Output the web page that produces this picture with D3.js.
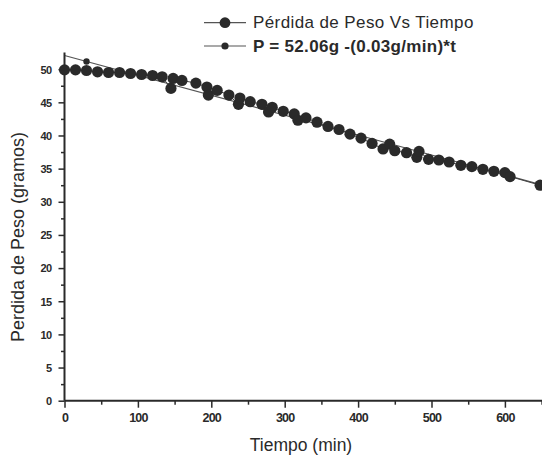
<!DOCTYPE html>
<html><head><meta charset="utf-8">
<script src="https://cdn.jsdelivr.net/npm/d3@7"></script>
<style>body{margin:0;background:#fff}svg{display:block}</style>
</head><body>
<svg id="c" width="542" height="456"></svg>
<script>
// Data
const timeMin = [0,15,30,45,60,75,90,105,120,133,145,148,160,179,194,196,208,224,237,239,253,269,278,283,298,313,318,329,344,359,374,389,404,419,434,443,450,466,480,483,496,510,524,540,555,570,585,600,607,648];
const weightG = [49.9,49.9,49.8,49.6,49.5,49.5,49.35,49.2,49.05,48.85,47.1,48.6,48.3,47.9,47.3,46.1,46.8,46.1,44.7,45.65,45.1,44.7,43.55,44.25,43.65,43.25,42.3,42.65,42.0,41.36,40.9,40.2,39.6,38.8,37.97,38.7,37.7,37.4,36.7,37.6,36.4,36.3,36.0,35.5,35.3,34.9,34.6,34.4,33.8,32.5];
const fitIntercept = 52.06, fitSlope = -0.03;
const fitLineT = [0, 650];
const fitMarkerT = [30];
const xTicks = [0,100,200,300,400,500,600];
const yTicks = [0,5,10,15,20,25,30,35,40,45,50];
const seriesNames = ["Pérdida de Peso Vs Tiempo", "P = 52.06g -(0.03g/min)*t"];

const svg = d3.select("#c");
const x = d3.scaleLinear().domain([0,650]).range([64.5,541.6]);
const y = d3.scaleLinear().domain([0,52.5]).range([400.7,52.6]);
const ink = "#2a2a2a";

// fit line
const fit = t => fitIntercept + fitSlope*t;
svg.append("path").datum(fitLineT)
  .attr("d", d3.line().x(t=>x(t)).y(t=>y(fit(t))))
  .attr("fill","none").attr("stroke","#555").attr("stroke-width",1.2);
svg.selectAll(".fm").data(fitMarkerT).join("circle")
  .attr("cx",t=>x(t)).attr("cy",t=>y(fit(t))).attr("r",3.2).attr("fill",ink);

// data
const pts = timeMin.map((t,i)=>[t,weightG[i]]);
svg.append("path").datum(pts)
  .attr("d", d3.line().x(d=>x(d[0])).y(d=>y(d[1])))
  .attr("fill","none").attr("stroke","#444").attr("stroke-width",1);
svg.selectAll(".pt").data(pts).join("circle")
  .attr("cx",d=>x(d[0])).attr("cy",d=>y(d[1])).attr("r",5.6).attr("fill",ink);

// axes
const xAxisG = svg.append("g").attr("transform","translate(0,400.7)")
  .call(d3.axisBottom(x).tickValues(d3.range(50,651,100)).tickSize(4).tickFormat(""));
const xMaj = svg.append("g").attr("transform","translate(0,400.7)")
  .call(d3.axisBottom(x).tickValues(xTicks).tickSize(7).tickPadding(5).tickFormat(d3.format("d")));
const yMin = svg.append("g").attr("transform","translate(64.5,0)")
  .call(d3.axisLeft(y).tickValues(d3.range(2.5,52.5,5)).tickSize(3.5).tickFormat(""));
const yMaj = svg.append("g").attr("transform","translate(64.5,0)")
  .call(d3.axisLeft(y).tickValues(yTicks).tickSize(6).tickPadding(7).tickFormat(d3.format("d")));
svg.selectAll(".domain").attr("stroke",ink).attr("stroke-width",2);
svg.selectAll(".tick line").attr("stroke",ink).attr("stroke-width",1.5);
xAxisG.select(".domain").remove(); yMin.select(".domain").remove();
xMaj.select(".domain").attr("d","M64.5,0H542");
yMaj.select(".domain").attr("d","M0,400.7V52.6");
xMaj.selectAll("text").attr("font-family","Liberation Sans, Arial, sans-serif").attr("font-weight","bold")
  .attr("font-size","12.5px").attr("letter-spacing","-0.8px").attr("fill",ink);
yMaj.selectAll("text").attr("font-family","Liberation Sans, Arial, sans-serif").attr("font-weight","bold")
  .attr("font-size","11px").attr("letter-spacing","-0.6px").attr("fill",ink).attr("dy","0.35em");

// titles
svg.append("text").attr("x",301).attr("y",451).attr("text-anchor","middle")
  .attr("font-family","Liberation Sans, Arial, sans-serif").attr("font-size","17.5px").attr("fill",ink)
  .text("Tiempo (min)");
svg.append("text").attr("transform","translate(24,237) rotate(-90)").attr("text-anchor","middle")
  .attr("font-family","Liberation Sans, Arial, sans-serif").attr("font-size","18px").attr("fill",ink)
  .text("Perdida de Peso (gramos)");

// legend
const leg = svg.append("g");
[[22.7,5.4,"normal","0.4px"],[46,3.6,"bold","0.3px"]].forEach((r,i)=>{
  leg.append("line").attr("x1",204).attr("x2",246).attr("y1",r[0]).attr("y2",r[0])
    .attr("stroke","#555").attr("stroke-width",1.2);
  leg.append("circle").attr("cx",225).attr("cy",r[0]).attr("r",r[1]).attr("fill",ink);
  leg.append("text").attr("x",253).attr("y",r[0]+5.5)
    .attr("font-family","Liberation Sans, Arial, sans-serif").attr("font-size","17px")
    .attr("letter-spacing",r[3])
    .attr("font-weight",r[2]).attr("fill",ink).text(seriesNames[i]);
});
</script>
</body></html>
